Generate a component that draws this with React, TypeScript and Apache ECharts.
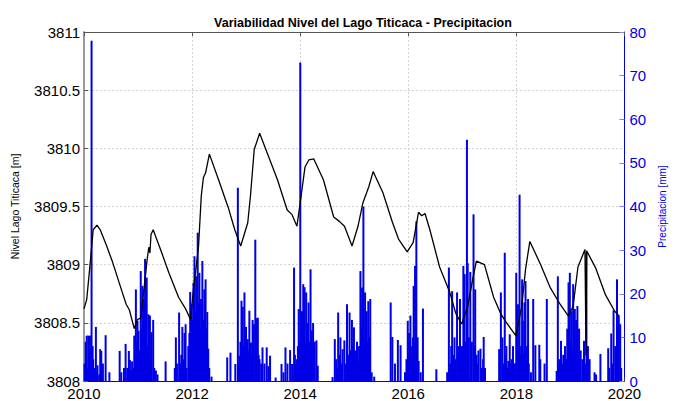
import React, { useEffect, useRef } from "react";
import * as echarts from "echarts";

const titleText = "Variabilidad Nivel del Lago Titicaca - Precipitacion";
const leftName = "Nivel Lago Titicaca [m]";
const rightName = "Precipitacion [mm]";

// Lake level [m] — [decimal year, level]
const lakeLevel: [number, number][] = [
  [2010.0, 3808.62], [2010.05, 3808.7], [2010.11, 3808.99], [2010.17, 3809.3], [2010.24, 3809.34],
  [2010.3, 3809.3], [2010.42, 3809.16], [2010.53, 3809.02], [2010.71, 3808.76], [2010.78, 3808.66],
  [2010.84, 3808.61], [2010.93, 3808.45], [2010.99, 3808.53], [2011.05, 3808.54], [2011.11, 3808.79],
  [2011.17, 3809.05], [2011.2, 3809.15], [2011.22, 3809.1], [2011.24, 3809.26], [2011.28, 3809.3],
  [2011.44, 3809.1], [2011.57, 3808.93], [2011.75, 3808.72], [2011.88, 3808.62], [2011.97, 3808.53],
  [2012.02, 3808.76], [2012.12, 3809.16], [2012.17, 3809.59], [2012.21, 3809.75], [2012.25, 3809.79],
  [2012.32, 3809.95], [2012.49, 3809.73], [2012.67, 3809.49], [2012.79, 3809.3], [2012.9, 3809.16],
  [2013.03, 3809.36], [2013.08, 3809.59], [2013.15, 3809.99], [2013.25, 3810.13], [2013.39, 3809.96],
  [2013.58, 3809.73], [2013.76, 3809.47], [2013.85, 3809.43], [2013.94, 3809.33], [2014.0, 3809.53],
  [2014.09, 3809.84], [2014.16, 3809.9], [2014.25, 3809.91], [2014.43, 3809.73], [2014.62, 3809.41],
  [2014.73, 3809.37], [2014.82, 3809.33], [2014.96, 3809.16], [2015.07, 3809.33], [2015.16, 3809.53],
  [2015.27, 3809.67], [2015.35, 3809.8], [2015.53, 3809.62], [2015.71, 3809.36], [2015.82, 3809.22],
  [2015.98, 3809.11], [2016.09, 3809.19], [2016.19, 3809.45], [2016.25, 3809.42], [2016.31, 3809.44],
  [2016.4, 3809.3], [2016.58, 3808.98], [2016.77, 3808.76], [2016.88, 3808.58], [2016.99, 3808.49],
  [2017.1, 3808.64], [2017.19, 3808.87], [2017.26, 3809.03], [2017.41, 3809.0], [2017.58, 3808.72],
  [2017.71, 3808.58], [2017.82, 3808.5], [2017.99, 3808.39], [2018.1, 3808.64], [2018.17, 3808.96],
  [2018.25, 3809.2], [2018.45, 3809.0], [2018.63, 3808.8], [2018.81, 3808.66], [2018.96, 3808.56],
  [2019.05, 3808.64], [2019.14, 3808.98], [2019.27, 3809.13], [2019.29, 3808.22], [2019.3, 3809.12],
  [2019.47, 3808.97], [2019.65, 3808.74], [2019.82, 3808.6], [2019.9, 3808.56],
];

// Precipitation [mm] — [decimal year, mm], one array per rainy season
const rain2010: [number, number][] = [
  [2010.01, 4], [2010.03, 9], [2010.05, 10.4], [2010.07, 3], [2010.08, 10.4], [2010.1, 6], [2010.11, 10.4],
  [2010.13, 2], [2010.14, 78], [2010.16, 8], [2010.17, 5], [2010.19, 3], [2010.2, 2.5], [2010.22, 12.4],
  [2010.24, 2], [2010.25, 3.6], [2010.28, 1.5], [2010.3, 7.3], [2010.32, 6.9], [2010.35, 4], [2010.4, 10.5],
  [2010.47, 2],
];
const rain2011: [number, number][] = [
  [2010.66, 6.9], [2010.69, 2], [2010.74, 3], [2010.77, 8.5], [2010.8, 3], [2010.83, 6.9], [2010.85, 4.8],
  [2010.87, 2.5], [2010.89, 4.5], [2010.91, 3], [2010.93, 10.4], [2010.95, 6], [2010.96, 21], [2010.98, 9],
  [2010.99, 13.8], [2011.01, 11.5], [2011.03, 7], [2011.05, 25.2], [2011.07, 12], [2011.08, 21.8],
  [2011.1, 9], [2011.11, 18.8], [2011.13, 28], [2011.14, 14], [2011.16, 23.7], [2011.17, 8], [2011.19, 15.3],
  [2011.2, 6], [2011.22, 15], [2011.24, 5], [2011.25, 11.2], [2011.28, 14], [2011.3, 3], [2011.33, 2.4],
  [2011.36, 1.5], [2011.51, 4.5],
];
const rain2012: [number, number][] = [
  [2011.68, 3], [2011.7, 10], [2011.72, 4], [2011.76, 15.7], [2011.78, 4], [2011.8, 6], [2011.82, 12.4],
  [2011.84, 5], [2011.86, 11], [2011.88, 13], [2011.9, 3], [2011.93, 8], [2011.95, 11], [2011.965, 20.4],
  [2011.98, 10], [2011.995, 17.7], [2012.01, 14], [2012.026, 22.5], [2012.035, 12], [2012.044, 28.6],
  [2012.06, 16], [2012.075, 24], [2012.09, 15], [2012.104, 34], [2012.12, 18], [2012.135, 24.8],
  [2012.15, 12], [2012.166, 18.8], [2012.178, 10], [2012.19, 27.5], [2012.21, 14], [2012.226, 21],
  [2012.24, 10], [2012.25, 23.3], [2012.265, 12], [2012.281, 15.8], [2012.299, 7.4], [2012.318, 3],
  [2012.36, 1],
];
const rain2013: [number, number][] = [
  [2012.65, 5.4], [2012.71, 6.5], [2012.8, 3.9], [2012.847, 44.3], [2012.865, 4], [2012.878, 5.8],
  [2012.895, 9], [2012.914, 18.4], [2012.938, 17], [2012.955, 8], [2012.969, 20.3], [2012.985, 9],
  [2012.998, 12.4], [2013.014, 6], [2013.029, 9.6], [2013.045, 7], [2013.06, 16.1], [2013.075, 6],
  [2013.089, 8.8], [2013.105, 6], [2013.12, 14], [2013.144, 13], [2013.17, 32.4], [2013.193, 14.4],
  [2013.217, 14.5], [2013.232, 6], [2013.248, 5], [2013.279, 4], [2013.303, 7.7], [2013.339, 4],
  [2013.381, 7.7], [2013.412, 3.4], [2013.443, 5.8], [2013.546, 0.8],
];
const rain2014: [number, number][] = [
  [2013.655, 3.9], [2013.692, 2], [2013.728, 7.7], [2013.765, 4], [2013.814, 7.1], [2013.85, 3.9],
  [2013.887, 26], [2013.903, 6], [2013.918, 4], [2013.942, 5], [2013.958, 8], [2013.973, 16.5],
  [2013.988, 9], [2014.002, 73], [2014.018, 10], [2014.033, 16], [2014.045, 12], [2014.057, 22.2],
  [2014.07, 10], [2014.082, 21.5], [2014.097, 9], [2014.111, 20.3], [2014.13, 13.3], [2014.143, 8],
  [2014.155, 18], [2014.172, 9], [2014.192, 25.6], [2014.205, 6], [2014.215, 11.6], [2014.239, 13.3],
  [2014.255, 5], [2014.27, 9], [2014.301, 9.3], [2014.325, 3.5],
];
const rain2015: [number, number][] = [
  [2014.599, 0.9], [2014.641, 9.6], [2014.666, 5], [2014.686, 3], [2014.703, 15.7], [2014.726, 6],
  [2014.745, 10], [2014.765, 4], [2014.786, 7.3], [2014.818, 9.3], [2014.849, 4], [2014.867, 17.6],
  [2014.89, 6], [2014.914, 15.7], [2014.935, 7], [2014.958, 14], [2014.975, 8], [2014.995, 12.3],
  [2015.015, 7], [2015.036, 6], [2015.052, 9], [2015.068, 4.5], [2015.09, 8], [2015.115, 25.2],
  [2015.13, 12], [2015.146, 21.4], [2015.17, 40], [2015.186, 10], [2015.201, 20.3], [2015.216, 8],
  [2015.232, 16], [2015.247, 9], [2015.261, 18.3], [2015.28, 10], [2015.297, 18.8], [2015.323, 2],
  [2015.37, 1],
];
const rain2016: [number, number][] = [
  [2015.675, 18], [2015.706, 10.1], [2015.754, 4], [2015.808, 9.4], [2015.858, 8.2], [2015.94, 2],
  [2015.967, 5], [2015.991, 13.8], [2016.005, 6], [2016.016, 11], [2016.04, 15], [2016.055, 5],
  [2016.071, 8], [2016.085, 10], [2016.1, 21.8], [2016.112, 9], [2016.126, 26.4], [2016.15, 36.6],
  [2016.173, 10], [2016.192, 4.6], [2016.23, 2], [2016.272, 16.6], [2016.52, 2.7],
];
const rain2017: [number, number][] = [
  [2016.72, 2], [2016.752, 26], [2016.776, 4], [2016.795, 8], [2016.812, 20.6], [2016.835, 6],
  [2016.856, 10], [2016.878, 5], [2016.903, 20.3], [2016.92, 8], [2016.934, 6], [2016.958, 18.8],
  [2016.975, 6], [2016.995, 8], [2017.02, 26.4], [2017.044, 24.5], [2017.062, 9], [2017.086, 55.3],
  [2017.1, 27], [2017.12, 10], [2017.148, 25], [2017.162, 7], [2017.177, 9], [2017.208, 38.2],
  [2017.225, 8], [2017.239, 21], [2017.263, 6], [2017.28, 4], [2017.299, 7], [2017.336, 7.4],
  [2017.36, 3], [2017.385, 5], [2017.396, 10.1], [2017.42, 3],
];
const rain2018: [number, number][] = [
  [2017.682, 7.3], [2017.714, 20.3], [2017.743, 10], [2017.765, 4], [2017.786, 29.4], [2017.8, 6],
  [2017.816, 8], [2017.835, 3], [2017.852, 4.6], [2017.878, 10.7], [2017.895, 4], [2017.914, 5],
  [2017.938, 8], [2017.955, 4], [2017.974, 4], [2017.998, 24.8], [2018.012, 8], [2018.029, 17.6],
  [2018.045, 7], [2018.06, 42.7], [2018.075, 6], [2018.089, 8], [2018.107, 23.3], [2018.12, 13.8],
  [2018.135, 6], [2018.151, 18], [2018.17, 22.9], [2018.185, 5], [2018.199, 8], [2018.217, 18.8],
  [2018.23, 4], [2018.27, 2], [2018.312, 18.8], [2018.352, 8.2], [2018.425, 8.3], [2018.443, 5],
  [2018.522, 4], [2018.564, 18.8],
];
const rain2019: [number, number][] = [
  [2018.746, 2.3], [2018.768, 24], [2018.782, 4], [2018.796, 5], [2018.812, 3], [2018.827, 9.2],
  [2018.848, 4], [2018.869, 6], [2018.885, 4], [2018.9, 8], [2018.92, 5], [2018.942, 12], [2018.955, 6],
  [2018.966, 22.6], [2018.978, 8], [2018.99, 24.8], [2019.005, 9], [2019.02, 16], [2019.035, 7],
  [2019.051, 22.2], [2019.066, 8], [2019.082, 16.5], [2019.095, 6], [2019.106, 14], [2019.13, 17.2],
  [2019.145, 6], [2019.161, 12], [2019.175, 5], [2019.191, 7], [2019.221, 5], [2019.252, 9.2],
  [2019.27, 4], [2019.297, 29.3], [2019.312, 6], [2019.325, 8], [2019.356, 5], [2019.447, 2],
  [2019.476, 1.5], [2019.556, 6.2], [2019.7, 7.5], [2019.72, 3], [2019.756, 10.9], [2019.775, 4],
  [2019.799, 16.2], [2019.83, 8], [2019.85, 5], [2019.863, 23.3], [2019.88, 6], [2019.896, 15],
  [2019.922, 13], [2019.94, 3],
];

const rainAll = [
  ...rain2010, ...rain2011, ...rain2012, ...rain2013, ...rain2014,
  ...rain2015, ...rain2016, ...rain2017, ...rain2018, ...rain2019,
];

const xTicksMin = 2010;
const xTicksMax = 2020;
const FONT = "'Liberation Sans', Arial, Helvetica, sans-serif";
const BLUE = "#0000e6";

export default function App() {
  const ref = useRef<HTMLDivElement>(null);
  useEffect(() => {
    if (!ref.current) return;
    const chart = echarts.init(ref.current, null, { renderer: "svg" });
    const split = { show: true, lineStyle: { color: "#d4d4d4", type: [2, 2] as any, width: 1 } };
    chart.setOption({
      animation: false,
      backgroundColor: "#ffffff",
      title: {
        text: titleText,
        left: 358,
        top: 11,
        textAlign: "center",
        textStyle: { fontFamily: FONT, fontSize: 12.5, fontWeight: "bold", color: "#000" },
      },
      grid: { left: 84, right: 43, top: 32, bottom: 19, containLabel: false },
      xAxis: [
        {
          type: "value",
          min: xTicksMin,
          max: xTicksMax,
          interval: 2,
          position: "bottom",
          axisLine: { show: true, onZero: false, lineStyle: { color: BLUE, width: 1 } },
          axisTick: { show: true, inside: true, length: 4, lineStyle: { color: "#333" } },
          axisLabel: { color: "#000", fontFamily: FONT, fontSize: 15, margin: 5, formatter: (v: number) => String(v) },
          splitLine: split,
        },
        {
          type: "value",
          min: xTicksMin,
          max: xTicksMax,
          interval: 2,
          position: "top",
          axisLine: { show: true, onZero: false, lineStyle: { color: "#555", width: 1 } },
          axisTick: { show: true, inside: true, length: 4, lineStyle: { color: "#555" } },
          axisLabel: { show: false },
          splitLine: { show: false },
        },
      ],
      yAxis: [
        {
          type: "value",
          min: 3808,
          max: 3811,
          interval: 0.5,
          position: "left",
          name: leftName,
          nameLocation: "middle",
          nameRotate: 90,
          nameGap: 64,
          nameTextStyle: { fontFamily: FONT, fontSize: 10.5, color: "#000" },
          axisLine: { show: true, lineStyle: { color: "#9a9a9a", width: 2 } },
          axisTick: { show: true, inside: true, length: 4, lineStyle: { color: "#555" } },
          axisLabel: { color: "#000", fontFamily: FONT, fontSize: 15, margin: 4, formatter: (v: number) => String(v) },
          splitLine: split,
        },
        {
          type: "value",
          min: 0,
          max: 80,
          interval: 10,
          position: "right",
          name: rightName,
          nameLocation: "middle",
          nameRotate: 90,
          nameGap: 27,
          nameTextStyle: { fontFamily: FONT, fontSize: 10, color: BLUE },
          axisLine: { show: true, lineStyle: { color: BLUE, width: 1 } },
          axisTick: { show: true, inside: true, length: 5, lineStyle: { color: "#8080ff" } },
          axisLabel: { color: BLUE, fontFamily: FONT, fontSize: 15, margin: 5, formatter: (v: number) => String(v) },
          splitLine: { show: false },
        },
      ],
      series: [
        {
          type: "bar",
          name: "precip",
          xAxisIndex: 0,
          yAxisIndex: 1,
          data: rainAll,
          barWidth: 2,
          itemStyle: { color: BLUE },
          z: 2,
          silent: true,
        },
        {
          type: "line",
          name: "nivel",
          xAxisIndex: 0,
          yAxisIndex: 0,
          data: lakeLevel,
          showSymbol: false,
          symbol: "none",
          lineStyle: { color: "#000", width: 1.3 },
          z: 3,
          silent: true,
        },
      ],
    });
    return () => chart.dispose();
  }, []);
  return (
    <div
      ref={ref}
      style={{ position: "absolute", left: 0, top: 0, width: 675, height: 401, background: "#fff" }}
    />
  );
}
